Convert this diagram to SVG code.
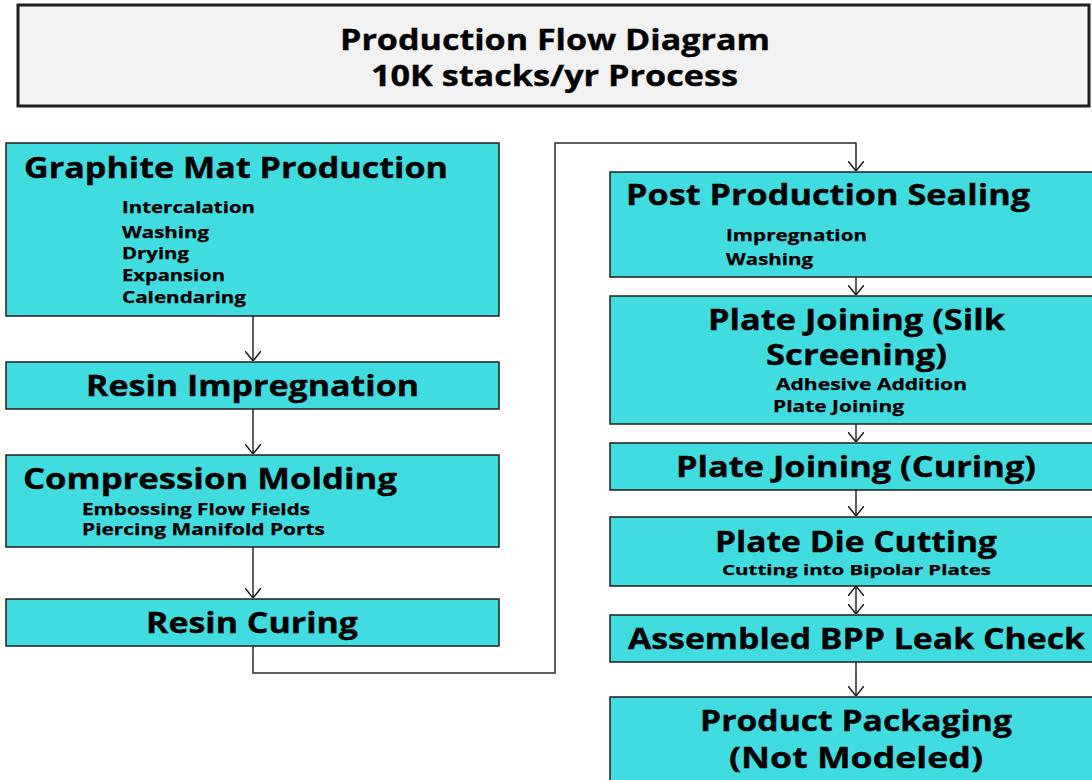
<svg xmlns="http://www.w3.org/2000/svg" width="1092" height="780" viewBox="0 0 1092 780">
  <style>
    .step { fill: #41dce0; stroke: #1f1f1f; stroke-width: 1.5; }
    .head { fill: #f2f2f2; stroke: #1f1f1f; stroke-width: 3; }
    text { font-family: "Open Sans", "Liberation Sans", sans-serif; font-weight: bold; fill: #000; stroke: #000; stroke-width: 0.35; }
    .big { font-size: 28px; }
    .small { font-size: 16px; stroke-width: 0.25; }
    .tiny { font-size: 15px; stroke-width: 0.25; }
    .flow { fill: none; stroke: #2a2a2a; stroke-width: 1.5; }
  </style>
  <defs>
    <marker id="arrow" viewBox="0 0 10 16" refX="10" refY="8" markerWidth="10" markerHeight="16" markerUnits="userSpaceOnUse" orient="auto-start-reverse">
      <path d="M0,0 L10,8 L0,16" fill="none" stroke="#1f1f1f" stroke-width="1.5"/>
    </marker>
  </defs>

  <rect width="1092" height="780" fill="#ffffff"/>

  <!-- heading -->
  <g id="heading">
    <rect class="head" x="18" y="5" width="1071" height="101"/>
    <text class="big" x="340" y="50" textLength="430" lengthAdjust="spacingAndGlyphs">Production Flow Diagram</text>
    <text class="big" x="371" y="86" textLength="367" lengthAdjust="spacingAndGlyphs">10K stacks/yr Process</text>
  </g>

  <!-- connectors -->
  <g id="connectors">
    <path class="flow" d="M253,316 V361" marker-end="url(#arrow)"/>
    <path class="flow" d="M253,409 V454" marker-end="url(#arrow)"/>
    <path class="flow" d="M253,547 V598" marker-end="url(#arrow)"/>
    <path class="flow" d="M253,646 V673 H555 V143 H856 V171" marker-end="url(#arrow)"/>
    <path class="flow" d="M856,277 V295" marker-end="url(#arrow)"/>
    <path class="flow" d="M856,424 V442" marker-end="url(#arrow)"/>
    <path class="flow" d="M856,490 V516" marker-end="url(#arrow)"/>
    <path class="flow" d="M856,586 V614" marker-start="url(#arrow)" marker-end="url(#arrow)"/>
    <path class="flow" d="M856,662 V696" marker-end="url(#arrow)"/>
  </g>

  <!-- left column -->
  <g id="graphite-mat-production">
    <rect class="step" x="6" y="143" width="493" height="173"/>
    <text class="big" x="24" y="178" textLength="424" lengthAdjust="spacingAndGlyphs">Graphite Mat Production</text>
    <text class="small" x="122" y="213" textLength="133" lengthAdjust="spacingAndGlyphs">Intercalation</text>
    <text class="small" x="122" y="238" textLength="87" lengthAdjust="spacingAndGlyphs">Washing</text>
    <text class="small" x="122" y="259" textLength="67" lengthAdjust="spacingAndGlyphs">Drying</text>
    <text class="small" x="122" y="281" textLength="103" lengthAdjust="spacingAndGlyphs">Expansion</text>
    <text class="small" x="122" y="303" textLength="124" lengthAdjust="spacingAndGlyphs">Calendaring</text>
  </g>

  <g id="resin-impregnation">
    <rect class="step" x="6" y="362" width="493" height="47"/>
    <text class="big" x="86" y="396" textLength="333" lengthAdjust="spacingAndGlyphs">Resin Impregnation</text>
  </g>

  <g id="compression-molding">
    <rect class="step" x="6" y="455" width="493" height="92"/>
    <text class="big" x="23" y="489" textLength="374" lengthAdjust="spacingAndGlyphs">Compression Molding</text>
    <text class="small" x="82" y="515" textLength="228" lengthAdjust="spacingAndGlyphs">Embossing Flow Fields</text>
    <text class="small" x="82" y="535" textLength="243" lengthAdjust="spacingAndGlyphs">Piercing Manifold Ports</text>
  </g>

  <g id="resin-curing">
    <rect class="step" x="6" y="599" width="493" height="47"/>
    <text class="big" x="146" y="633" textLength="212" lengthAdjust="spacingAndGlyphs">Resin Curing</text>
  </g>

  <!-- right column -->
  <g id="post-production-sealing">
    <rect class="step" x="610" y="172" width="490" height="105"/>
    <text class="big" x="626" y="205" textLength="404" lengthAdjust="spacingAndGlyphs">Post Production Sealing</text>
    <text class="small" x="726" y="241" textLength="141" lengthAdjust="spacingAndGlyphs">Impregnation</text>
    <text class="small" x="726" y="265" textLength="87" lengthAdjust="spacingAndGlyphs">Washing</text>
  </g>

  <g id="plate-joining-silk-screening">
    <rect class="step" x="610" y="296" width="490" height="128"/>
    <text class="big" x="708" y="330" textLength="297" lengthAdjust="spacingAndGlyphs">Plate Joining (Silk</text>
    <text class="big" x="766" y="365" textLength="181" lengthAdjust="spacingAndGlyphs">Screening)</text>
    <text class="small" x="776" y="390" textLength="191" lengthAdjust="spacingAndGlyphs">Adhesive Addition</text>
    <text class="small" x="773" y="412" textLength="131" lengthAdjust="spacingAndGlyphs">Plate Joining</text>
  </g>

  <g id="plate-joining-curing">
    <rect class="step" x="610" y="443" width="490" height="47"/>
    <text class="big" x="676" y="477" textLength="360" lengthAdjust="spacingAndGlyphs">Plate Joining (Curing)</text>
  </g>

  <g id="plate-die-cutting">
    <rect class="step" x="610" y="517" width="490" height="69"/>
    <text class="big" x="715" y="552" textLength="282" lengthAdjust="spacingAndGlyphs">Plate Die Cutting</text>
    <text class="tiny" x="722" y="575" textLength="269" lengthAdjust="spacingAndGlyphs">Cutting into Bipolar Plates</text>
  </g>

  <g id="assembled-bpp-leak-check">
    <rect class="step" x="610" y="615" width="490" height="47"/>
    <text class="big" x="628" y="649" textLength="457" lengthAdjust="spacingAndGlyphs">Assembled BPP Leak Check</text>
  </g>

  <g id="product-packaging">
    <rect class="step" x="610" y="697" width="490" height="100"/>
    <text class="big" x="700" y="731" textLength="312" lengthAdjust="spacingAndGlyphs">Product Packaging</text>
    <text class="big" x="729" y="768" textLength="254" lengthAdjust="spacingAndGlyphs">(Not Modeled)</text>
  </g>
</svg>
